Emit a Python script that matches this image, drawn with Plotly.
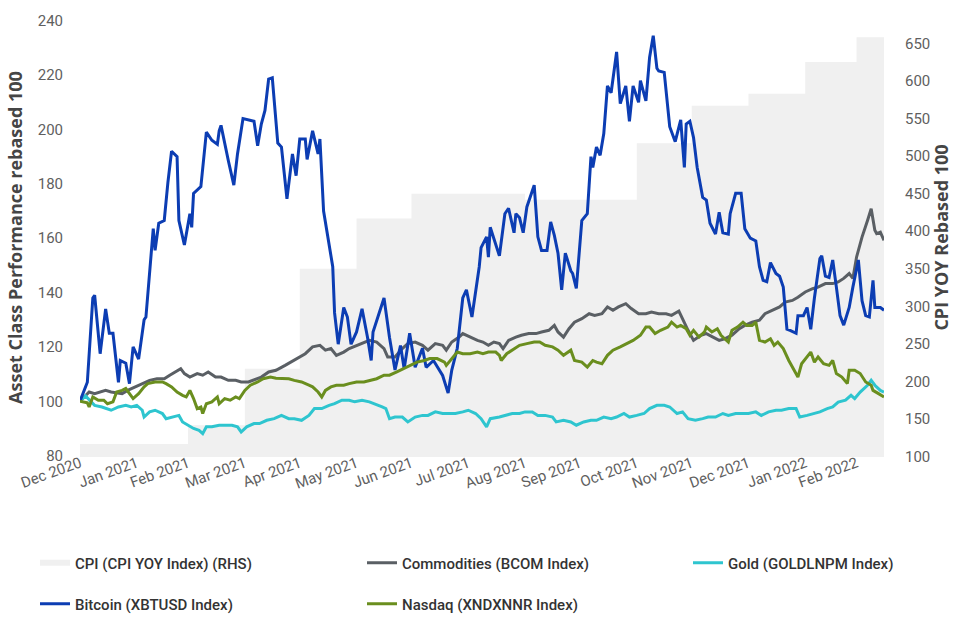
import plotly.graph_objects as go

# ---------------- data ----------------
cpi_dates = ["2020-12-31", "2021-01-31", "2021-02-28", "2021-03-31", "2021-04-30", "2021-05-31",
             "2021-06-30", "2021-07-31", "2021-08-31", "2021-09-30", "2021-10-31", "2021-11-30",
             "2021-12-31", "2022-01-31", "2022-02-28", "2022-03-15"]
cpi_values = [117, 117, 142, 217, 350, 417, 450, 450, 442, 442, 517, 567, 583, 625, 658, 658]

btc_dates = ["2020-12-31", "2021-01-04", "2021-01-07", "2021-01-08", "2021-01-11", "2021-01-14", "2021-01-16",
             "2021-01-18", "2021-01-21", "2021-01-22", "2021-01-25", "2021-01-27", "2021-01-29", "2021-02-01",
             "2021-02-04", "2021-02-05", "2021-02-09", "2021-02-10", "2021-02-12", "2021-02-15", "2021-02-17",
             "2021-02-19", "2021-02-22", "2021-02-23", "2021-02-26", "2021-03-01", "2021-03-02", "2021-03-03",
             "2021-03-07", "2021-03-10", "2021-03-13", "2021-03-16", "2021-03-17", "2021-03-18", "2021-03-22",
             "2021-03-25", "2021-03-27", "2021-03-30", "2021-04-05", "2021-04-07", "2021-04-09", "2021-04-11",
             "2021-04-13", "2021-04-15", "2021-04-18", "2021-04-20", "2021-04-23", "2021-04-26", "2021-04-28",
             "2021-04-30", "2021-05-03", "2021-05-04", "2021-05-07", "2021-05-10", "2021-05-11", "2021-05-13",
             "2021-05-18", "2021-05-19", "2021-05-21", "2021-05-24", "2021-05-26", "2021-05-28", "2021-05-31",
             "2021-06-03", "2021-06-06", "2021-06-08", "2021-06-09", "2021-06-12", "2021-06-15", "2021-06-18",
             "2021-06-21", "2021-06-24", "2021-06-26", "2021-06-29", "2021-07-02", "2021-07-06", "2021-07-08",
             "2021-07-12", "2021-07-17", "2021-07-20", "2021-07-22", "2021-07-25", "2021-07-28", "2021-07-30",
             "2021-08-02", "2021-08-06", "2021-08-07", "2021-08-10", "2021-08-11", "2021-08-12", "2021-08-15",
             "2021-08-17", "2021-08-20", "2021-08-22", "2021-08-25", "2021-08-26", "2021-08-28", "2021-08-30",
             "2021-09-01", "2021-09-05", "2021-09-07", "2021-09-09", "2021-09-12", "2021-09-14", "2021-09-16",
             "2021-09-18", "2021-09-20", "2021-09-22", "2021-09-25", "2021-09-26", "2021-09-28", "2021-10-01",
             "2021-10-04", "2021-10-06", "2021-10-07", "2021-10-09", "2021-10-11", "2021-10-13", "2021-10-15",
             "2021-10-17", "2021-10-20", "2021-10-22", "2021-10-25", "2021-10-27", "2021-10-29", "2021-11-01",
             "2021-11-02", "2021-11-05", "2021-11-07", "2021-11-09", "2021-11-11", "2021-11-12", "2021-11-15",
             "2021-11-17", "2021-11-18", "2021-11-21", "2021-11-24", "2021-11-26", "2021-11-27", "2021-11-29",
             "2021-12-01", "2021-12-03", "2021-12-06", "2021-12-08", "2021-12-10", "2021-12-13", "2021-12-15",
             "2021-12-17", "2021-12-20", "2021-12-21", "2021-12-24", "2021-12-27", "2021-12-29", "2022-01-01",
             "2022-01-04", "2022-01-06", "2022-01-08", "2022-01-10", "2022-01-12", "2022-01-15", "2022-01-17",
             "2022-01-19", "2022-01-21", "2022-01-23", "2022-01-26", "2022-01-27", "2022-01-30", "2022-02-01",
             "2022-02-03", "2022-02-05", "2022-02-08", "2022-02-09", "2022-02-11", "2022-02-13", "2022-02-15",
             "2022-02-17", "2022-02-19", "2022-02-21", "2022-02-24", "2022-02-26", "2022-03-01", "2022-03-03",
             "2022-03-05", "2022-03-07", "2022-03-09", "2022-03-10", "2022-03-13", "2022-03-15"]
btc_values = [100, 107, 138, 139, 117.5, 134, 125,
              125, 107, 115, 114, 106.5, 120, 115.5,
              130, 131, 163.5, 155.5, 165.5, 166.5, 180.5,
              192, 190, 166.5, 157.5, 169, 164, 176.5,
              179, 199, 196, 194.5, 199.5, 201.5, 188.5,
              179.5, 191, 204, 203, 194, 202, 207,
              218.5, 219, 195, 193.5, 174.5, 191, 183,
              196.5, 196.5, 189, 199.5, 191, 196.5, 170,
              149.5, 132.5, 121, 134.5, 131, 121, 125.5,
              134, 123.5, 115, 125.5, 132, 138, 123.5,
              111.5, 120.5, 112, 125, 112.5, 119.5, 112.5,
              115, 109.5, 103, 111.5, 119.5, 138, 141,
              131, 149.5, 156.5, 160.5, 153, 164, 157.5,
              153.5, 169, 171, 162, 169, 167.5, 162,
              171.5, 179.5, 160.5, 155.5, 155.5, 166, 161,
              154.5, 141, 154.5, 148, 147, 141.5, 166.5,
              169, 190, 186, 193.5, 190.5, 198.5, 216,
              213.5, 228.5, 209.5, 216, 203, 216, 210,
              218, 210.5, 226.5, 234.5, 222.5, 221.5, 221,
              208, 201, 195.5, 203.5, 186, 202, 203,
              197, 186, 175, 174, 165.5, 161.5, 169.5,
              162, 161.5, 169, 176.5, 176.5, 163.5, 160,
              159, 149.5, 144.5, 144, 151, 147, 146,
              142, 126.5, 126, 125, 131.5, 131.5, 134.5,
              126.5, 138, 152.5, 153.5, 146, 145.5, 152,
              142, 131.5, 128, 134.5, 142, 152, 137,
              131.5, 131, 144.5, 134.5, 134.5, 133.5]

com_dates = ["2020-12-31", "2021-01-05", "2021-01-08", "2021-01-14", "2021-01-17", "2021-01-23", "2021-01-26",
             "2021-01-30", "2021-02-03", "2021-02-07", "2021-02-11", "2021-02-15", "2021-02-18", "2021-02-21",
             "2021-02-24", "2021-02-26", "2021-03-01", "2021-03-05", "2021-03-08", "2021-03-11", "2021-03-15",
             "2021-03-18", "2021-03-22", "2021-03-26", "2021-03-29", "2021-04-02", "2021-04-06", "2021-04-09",
             "2021-04-13", "2021-04-17", "2021-04-22", "2021-04-28", "2021-05-03", "2021-05-07", "2021-05-11",
             "2021-05-14", "2021-05-17", "2021-05-20", "2021-05-24", "2021-05-27", "2021-05-31", "2021-06-04",
             "2021-06-07", "2021-06-11", "2021-06-15", "2021-06-17", "2021-06-21", "2021-06-25", "2021-06-28",
             "2021-07-02", "2021-07-06", "2021-07-09", "2021-07-13", "2021-07-17", "2021-07-19", "2021-07-22",
             "2021-07-26", "2021-07-28", "2021-08-01", "2021-08-05", "2021-08-08", "2021-08-11", "2021-08-14",
             "2021-08-17", "2021-08-19", "2021-08-22", "2021-08-26", "2021-08-29", "2021-09-02", "2021-09-06",
             "2021-09-09", "2021-09-13", "2021-09-16", "2021-09-18", "2021-09-21", "2021-09-24", "2021-09-27",
             "2021-10-01", "2021-10-05", "2021-10-08", "2021-10-12", "2021-10-15", "2021-10-18", "2021-10-21",
             "2021-10-25", "2021-10-28", "2021-11-01", "2021-11-05", "2021-11-08", "2021-11-12", "2021-11-16",
             "2021-11-19", "2021-11-23", "2021-11-26", "2021-11-28", "2021-12-01", "2021-12-05", "2021-12-08",
             "2021-12-12", "2021-12-15", "2021-12-18", "2021-12-22", "2021-12-26", "2021-12-29", "2022-01-02",
             "2022-01-06", "2022-01-09", "2022-01-13", "2022-01-17", "2022-01-20", "2022-01-24", "2022-01-27",
             "2022-01-31", "2022-02-04", "2022-02-07", "2022-02-11", "2022-02-15", "2022-02-18", "2022-02-21",
             "2022-02-24", "2022-02-26", "2022-02-28", "2022-03-03", "2022-03-06", "2022-03-08", "2022-03-10",
             "2022-03-11", "2022-03-13", "2022-03-15"]
com_values = [100, 103.4, 102.8, 104, 103.4, 102.8, 104,
              105.3, 106.5, 107.7, 108.3, 108.3, 109.6, 110.8,
              112, 110.2, 108.9, 110.2, 109.6, 110.8, 108.9,
              108.9, 107.7, 107.7, 107.1, 107.1, 108.3, 108.9,
              110.8, 111.4, 113.2, 115.7, 117.5, 120, 120.6,
              118.8, 119.4, 116.9, 118.1, 119.4, 120.6, 121.8,
              122.4, 121.8, 119.4, 116.3, 116.3, 119.4, 121.2,
              121.8, 120.6, 118.8, 121.2, 120.6, 118.8, 121.8,
              123.6, 124.9, 123.6, 122.4, 121.8, 120.6, 121.8,
              121.2, 119.4, 122.4, 123.6, 124.3, 124.9, 124.9,
              125.5, 126.1, 127.9, 125.5, 123.6, 126.7, 129.1,
              130.4, 132.2, 131.6, 132.2, 134.7, 133.5, 134.7,
              135.9, 134.1, 132.2, 132.2, 132.8, 132.2, 132.2,
              131.6, 133.2, 128.6, 126.1, 122.4, 124.3, 124.9,
              123.6, 122.4, 123, 124.3, 126.7, 127.9, 129.1,
              129.8, 132.2, 133.5, 134.7, 136.5, 137.1, 138.3,
              140.2, 141.4, 142, 143.3, 143.3, 143.9, 145.2,
              147, 145.2, 153, 160.4, 166.5, 170.8, 162.9,
              161.7, 162.2, 159.2]

gold_dates = ["2020-12-31", "2021-01-03", "2021-01-08", "2021-01-12", "2021-01-17", "2021-01-21", "2021-01-25",
              "2021-01-28", "2021-01-31", "2021-02-03", "2021-02-04", "2021-02-07", "2021-02-10", "2021-02-14",
              "2021-02-16", "2021-02-20", "2021-02-23", "2021-02-25", "2021-02-28", "2021-03-03", "2021-03-06",
              "2021-03-08", "2021-03-10", "2021-03-13", "2021-03-17", "2021-03-20", "2021-03-24", "2021-03-27",
              "2021-03-29", "2021-04-01", "2021-04-05", "2021-04-08", "2021-04-12", "2021-04-16", "2021-04-20",
              "2021-04-24", "2021-04-27", "2021-05-01", "2021-05-05", "2021-05-08", "2021-05-12", "2021-05-16",
              "2021-05-19", "2021-05-23", "2021-05-27", "2021-05-30", "2021-06-03", "2021-06-07", "2021-06-10",
              "2021-06-14", "2021-06-16", "2021-06-18", "2021-06-21", "2021-06-25", "2021-06-28", "2021-07-02",
              "2021-07-06", "2021-07-09", "2021-07-13", "2021-07-17", "2021-07-20", "2021-07-24", "2021-07-28",
              "2021-07-31", "2021-08-04", "2021-08-07", "2021-08-10", "2021-08-12", "2021-08-17", "2021-08-20",
              "2021-08-24", "2021-08-28", "2021-08-31", "2021-09-04", "2021-09-07", "2021-09-11", "2021-09-15",
              "2021-09-17", "2021-09-21", "2021-09-25", "2021-09-28", "2021-10-02", "2021-10-06", "2021-10-09",
              "2021-10-13", "2021-10-17", "2021-10-20", "2021-10-24", "2021-10-27", "2021-10-31", "2021-11-04",
              "2021-11-07", "2021-11-11", "2021-11-15", "2021-11-18", "2021-11-22", "2021-11-25", "2021-11-28",
              "2021-12-02", "2021-12-06", "2021-12-09", "2021-12-13", "2021-12-17", "2021-12-20", "2021-12-24",
              "2021-12-28", "2021-12-31", "2022-01-04", "2022-01-07", "2022-01-11", "2022-01-15", "2022-01-18",
              "2022-01-22", "2022-01-26", "2022-01-28", "2022-02-01", "2022-02-05", "2022-02-08", "2022-02-12",
              "2022-02-15", "2022-02-18", "2022-02-22", "2022-02-25", "2022-02-27", "2022-03-02", "2022-03-06",
              "2022-03-08", "2022-03-10", "2022-03-13", "2022-03-15"]
gold_values = [100, 102, 98.5, 97.9, 96.7, 97.9, 98.5,
               97.9, 98.5, 96.7, 94.2, 96.1, 96.7, 95.5,
               93.6, 94.2, 94.8, 92.4, 91.2, 90, 89.3,
               88.1, 90.6, 90.6, 91.2, 91.2, 91.2, 90.6,
               88.7, 90.6, 91.8, 91.8, 93, 93.6, 94.8,
               93.6, 93.6, 93, 94.8, 97.3, 97.3, 98.5,
               99.1, 100.4, 100.4, 99.8, 100.4, 99.8, 99.1,
               97.9, 97.3, 93.6, 94.2, 94.2, 92.4, 94.2,
               94.8, 94.8, 96.1, 95.5, 95.5, 95.5, 96.1,
               96.7, 95.5, 93.6, 90.6, 93.6, 94.2, 94.8,
               95.5, 95.5, 96.1, 96.1, 94.8, 94.8, 94.2,
               92.4, 93, 92.4, 91.2, 92.4, 93, 93,
               94.2, 93.6, 94.2, 95.5, 94.2, 94.8, 95.5,
               97.3, 98.5, 98.5, 97.9, 95.5, 96.1, 93.6,
               93, 93.6, 94.2, 94.2, 95.5, 94.8, 95.5,
               95.5, 95.5, 96.1, 94.8, 96.1, 96.7, 96.7,
               97.3, 97.3, 94.2, 94.8, 95.5, 96.1, 97.3,
               97.9, 99.7, 100.4, 102.2, 101, 103.4, 105.9,
               107.7, 105.9, 104, 103.4]

ndq_dates = ["2020-12-31", "2021-01-04", "2021-01-05", "2021-01-07", "2021-01-10", "2021-01-13", "2021-01-15",
             "2021-01-18", "2021-01-20", "2021-01-23", "2021-01-25", "2021-01-27", "2021-01-29", "2021-02-01",
             "2021-02-04", "2021-02-06", "2021-02-10", "2021-02-14", "2021-02-16", "2021-02-19", "2021-02-22",
             "2021-02-25", "2021-02-27", "2021-03-01", "2021-03-03", "2021-03-05", "2021-03-07", "2021-03-08",
             "2021-03-10", "2021-03-13", "2021-03-16", "2021-03-17", "2021-03-20", "2021-03-23", "2021-03-26",
             "2021-03-28", "2021-03-31", "2021-04-03", "2021-04-07", "2021-04-10", "2021-04-14", "2021-04-17",
             "2021-04-20", "2021-04-24", "2021-04-27", "2021-05-01", "2021-05-05", "2021-05-07", "2021-05-10",
             "2021-05-12", "2021-05-14", "2021-05-17", "2021-05-20", "2021-05-24", "2021-05-27", "2021-05-31",
             "2021-06-04", "2021-06-07", "2021-06-11", "2021-06-15", "2021-06-18", "2021-06-22", "2021-06-26",
             "2021-06-29", "2021-07-03", "2021-07-07", "2021-07-10", "2021-07-14", "2021-07-18", "2021-07-19",
             "2021-07-22", "2021-07-25", "2021-07-28", "2021-08-01", "2021-08-05", "2021-08-08", "2021-08-11",
             "2021-08-15", "2021-08-17", "2021-08-18", "2021-08-21", "2021-08-25", "2021-08-28", "2021-09-01",
             "2021-09-05", "2021-09-08", "2021-09-11", "2021-09-15", "2021-09-18", "2021-09-21", "2021-09-25",
             "2021-09-27", "2021-10-01", "2021-10-04", "2021-10-07", "2021-10-09", "2021-10-12", "2021-10-15",
             "2021-10-18", "2021-10-22", "2021-10-26", "2021-10-29", "2021-11-02", "2021-11-05", "2021-11-07",
             "2021-11-10", "2021-11-13", "2021-11-17", "2021-11-19", "2021-11-22", "2021-11-24", "2021-11-27",
             "2021-11-29", "2021-12-01", "2021-12-04", "2021-12-07", "2021-12-08", "2021-12-11", "2021-12-14",
             "2021-12-16", "2021-12-18", "2021-12-20", "2021-12-22", "2021-12-25", "2021-12-28", "2021-12-30",
             "2022-01-02", "2022-01-04", "2022-01-06", "2022-01-09", "2022-01-12", "2022-01-14", "2022-01-16",
             "2022-01-19", "2022-01-22", "2022-01-25", "2022-01-27", "2022-01-29", "2022-02-01", "2022-02-03",
             "2022-02-05", "2022-02-07", "2022-02-10", "2022-02-13", "2022-02-15", "2022-02-17", "2022-02-20",
             "2022-02-23", "2022-02-24", "2022-02-27", "2022-03-02", "2022-03-05", "2022-03-08", "2022-03-09",
             "2022-03-12", "2022-03-15"]
ndq_values = [100, 99.4, 97.9, 101.6, 100.4, 100.4, 99.1,
              99.8, 103.4, 104, 104.7, 102.8, 101, 102.8,
              105.3, 106.5, 107.1, 107.1, 106.5, 105.3, 103.4,
              102.2, 101.6, 104, 101, 97.3, 97.9, 95.5,
              99.1, 99.8, 101.6, 99.1, 101, 100.4, 101.6,
              101, 104, 105.9, 107.1, 108.3, 108.9, 108.5,
              108.3, 108.3, 107.7, 107.1, 105.9, 105.3, 103.4,
              101.6, 104, 105.3, 105.9, 105.9, 106.5, 107.1,
              107.1, 107.7, 108.3, 109.6, 109.6, 110.8, 112,
              113.2, 114.4, 115, 115.7, 115.7, 114.4, 113.2,
              115.7, 118.1, 117.5, 117.5, 118.1, 117.5, 118.1,
              118.1, 116.9, 115, 117.5, 119.4, 120.6, 121.2,
              121.8, 121.8, 120.6, 120, 118.8, 116.9, 118.8,
              115, 114.4, 112.6, 115, 114.4, 113.8, 116.9,
              118.8, 120, 121.2, 122.4, 124.3, 127.3, 127.3,
              124.9, 126.1, 127.3, 129.1, 127.3, 127.9, 126.7,
              124.3, 126.1, 123.6, 125.5, 127.3, 125.5, 126.7,
              124.3, 123, 121.8, 126.1, 127.3, 129.1, 127.9,
              127.9, 129.1, 122.4, 121.8, 123, 120.6, 121.8,
              119.4, 115, 111.4, 108.9, 113.8, 116.3, 118.1,
              114.4, 116.3, 113.8, 113.2, 115, 110.2, 108.9,
              106.5, 111.4, 111.4, 110.2, 107.1, 105.9, 104,
              102.8, 101.6]

month_ticks = ["2020-12-31", "2021-01-31", "2021-02-28", "2021-03-31", "2021-04-30", "2021-05-31",
               "2021-06-30", "2021-07-31", "2021-08-31", "2021-09-30", "2021-10-31", "2021-11-30",
               "2021-12-31", "2022-01-31", "2022-02-28"]
month_labels = ["Dec 2020", "Jan 2021", "Feb 2021", "Mar 2021", "Apr 2021", "May 2021", "Jun 2021",
                "Jul 2021", "Aug 2021", "Sep 2021", "Oct 2021", "Nov 2021", "Dec 2021", "Jan 2022",
                "Feb 2022"]
left_ticks = [80, 100, 120, 140, 160, 180, 200, 220, 240]
right_ticks = [100, 150, 200, 250, 300, 350, 400, 450, 500, 550, 600, 650]

# ---------------- figure ----------------
TICK_FONT = dict(family="Roboto, Lato, sans-serif", size=15, color="#5f5f5f")
TITLE_FONT = dict(family="Open Sans, sans-serif", size=18, color="#454545", weight="bold")
LEG_FONT = dict(family="Roboto, sans-serif", size=15, color="#333333", weight=500)

fig = go.Figure()

fig.add_trace(go.Scatter(
    x=cpi_dates, y=cpi_values, name="CPI (CPI YOY Index) (RHS)", mode="none",
    fill="tozeroy", fillcolor="#f0f0f0", line_shape="hv", yaxis="y", legend="legend"))
fig.add_trace(go.Scatter(
    x=com_dates, y=com_values, name="Commodities (BCOM Index)", mode="lines",
    line=dict(color="#5a5f64", width=3), yaxis="y2", legend="legend2"))
fig.add_trace(go.Scatter(
    x=gold_dates, y=gold_values, name="Gold (GOLDLNPM Index)", mode="lines",
    line=dict(color="#2ec5cf", width=3), yaxis="y2", legend="legend3"))
fig.add_trace(go.Scatter(
    x=btc_dates, y=btc_values, name="Bitcoin (XBTUSD Index)", mode="lines",
    line=dict(color="#0c3db3", width=3), yaxis="y2", legend="legend4"))
fig.add_trace(go.Scatter(
    x=ndq_dates, y=ndq_values, name="Nasdaq (XNDXNNR Index)", mode="lines",
    line=dict(color="#6a8e1e", width=3), yaxis="y2", legend="legend5"))

leg_common = dict(orientation="h", xref="container", yref="container", yanchor="middle",
                  xanchor="left", font=LEG_FONT, bgcolor="rgba(0,0,0,0)",
                  itemclick=False, itemdoubleclick=False)
row1 = 1 - 563 / 617
row2 = 1 - 604 / 617
col1, col2, col3 = 35 / 953, 362 / 953, 688 / 953

fig.update_layout(
    width=953, height=617,
    margin=dict(l=80, r=69, t=18, b=160, autoexpand=False),
    paper_bgcolor="white", plot_bgcolor="white",
    showlegend=True,
    xaxis=dict(type="date", range=["2020-12-31", "2022-03-15"], tickvals=month_ticks,
               ticktext=month_labels, tickangle=-20, showgrid=False, zeroline=False,
               showline=False, ticks="", tickfont=TICK_FONT, ticklabelstandoff=-6),
    yaxis=dict(side="right", range=[99.6, 683.7], tickvals=right_ticks, showgrid=False,
               zeroline=False, showline=False, ticks="", tickfont=TICK_FONT, ticklabelstandoff=20,
               title=dict(text="CPI YOY Rebased 100", font=TITLE_FONT, standoff=24)),
    yaxis2=dict(side="left", overlaying="y", range=[79.5, 241], tickvals=left_ticks,
                showgrid=False, zeroline=False, showline=False, ticks="", tickfont=TICK_FONT,
                ticklabelstandoff=16,
                title=dict(text="Asset Class Performance rebased 100", font=TITLE_FONT, standoff=10)),
    legend=dict(x=col1, y=row1, **leg_common),
    legend2=dict(x=col2, y=row1, **leg_common),
    legend3=dict(x=col3, y=row1, **leg_common),
    legend4=dict(x=col1, y=row2, **leg_common),
    legend5=dict(x=col2, y=row2, **leg_common),
)

fig.write_html("out.html", config={"displayModeBar": False},
               post_script="document.body.style.margin='0';")
